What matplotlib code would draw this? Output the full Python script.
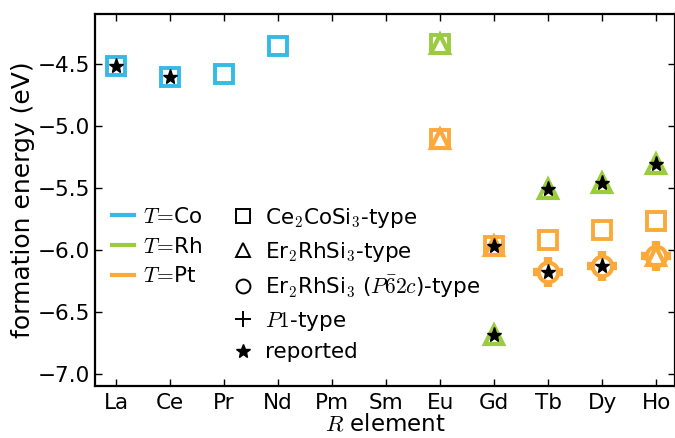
import matplotlib
matplotlib.use('Agg')
import matplotlib.pyplot as plt
from matplotlib.lines import Line2D

plt.rcParams['mathtext.fontset'] = 'cm'
plt.rcParams['font.family'] = 'DejaVu Sans'
plt.rcParams['font.size'] = 15

# R elements along the x axis
elements = ['La', 'Ce', 'Pr', 'Nd', 'Pm', 'Sm', 'Eu', 'Gd', 'Tb', 'Dy', 'Ho']

# formation energies (eV)
co_sq_el = ['La', 'Ce', 'Pr', 'Nd']
co_sq_e = [-4.52, -4.61, -4.58, -4.36]

rh_sq_el = ['Eu']
rh_sq_e = [-4.34]
rh_tri_el = ['Eu', 'Gd', 'Tb', 'Dy', 'Ho']
rh_tri_e = [-4.34, -6.69, -5.51, -5.46, -5.31]

pt_sq_el = ['Eu', 'Gd', 'Tb', 'Dy', 'Ho']
pt_sq_e = [-5.11, -5.97, -5.92, -5.84, -5.77]
pt_tri_el = ['Eu', 'Gd', 'Ho']
pt_tri_e = [-5.11, -5.97, -6.05]
pt_circ_el = ['Tb', 'Dy', 'Ho']
pt_circ_e = [-6.18, -6.13, -6.05]
pt_p1_el = ['Tb', 'Dy', 'Ho']
pt_p1_e = [-6.18, -6.13, -6.05]

reported_el = ['La', 'Ce', 'Gd', 'Tb', 'Dy', 'Ho', 'Gd', 'Tb', 'Dy']
reported_e = [-4.52, -4.61, -6.69, -5.51, -5.46, -5.31, -5.97, -6.18, -6.13]

c_co = '#35B9E9'
c_rh = '#9BCB3F'
c_pt = '#FCA93B'

idx = {el: i for i, el in enumerate(elements)}
def xs(els):
    return [idx[e] for e in els]

fig = plt.figure(figsize=(6.75, 4.38), dpi=100)
ax = fig.add_axes([95/675, 1-386/438, (675-95)/675, (386-14)/438])

sq = dict(marker='s', ms=13, mew=2.8, mfc='none', ls='none')
tri = dict(marker='^', ms=13, mew=3, mfc='none', ls='none')
plus = dict(marker='+', ms=22, mew=6, ls='none')

ax.plot(xs(co_sq_el), co_sq_e, mec=c_co, **sq)
ax.plot(xs(rh_sq_el), rh_sq_e, mec=c_rh, **sq)
ax.plot(xs(rh_tri_el), rh_tri_e, mec=c_rh, **tri)
ax.plot(xs(pt_p1_el), pt_p1_e, mec=c_pt, **plus)
ax.plot(xs(pt_circ_el), pt_circ_e, mec=c_pt, mfc='white', marker='o', ms=14, mew=3, ls='none')
ax.plot(xs(pt_sq_el), pt_sq_e, mec=c_pt, **sq)
ax.plot(xs(pt_tri_el), pt_tri_e, mec=c_pt, **tri)
ax.plot(xs(reported_el), reported_e, marker='*', ms=11, color='black', ls='none')

ax.set_xlim(-0.39, 10.35)
ax.set_ylim(-7.1, -4.1)
ax.set_xticks(range(len(elements)))
ax.set_xticklabels(elements)
ax.set_yticks([-7.0, -6.5, -6.0, -5.5, -5.0, -4.5])
ax.tick_params(direction='in', top=True, right=True, length=5, width=1, labelsize=15.5)
ax.tick_params(axis='x', pad=5)
for s in ax.spines.values():
    s.set_linewidth(1.6)

ax.set_xlabel(r'$R$ element', fontsize=16.5, labelpad=0)
ax.set_ylabel('formation energy (eV)', fontsize=18, labelpad=2)

# legend for T elements
h1 = [Line2D([], [], color=c, lw=3) for c in (c_co, c_rh, c_pt)]
l1 = [r'$T\!=\!$Co', r'$T\!=\!$Rh', r'$T\!=\!$Pt']
leg1 = ax.legend(h1, l1, loc='upper left', bbox_to_anchor=(112/675, 1-207/438),
                 bbox_transform=fig.transFigure, frameon=False, borderpad=0,
                 borderaxespad=0, handlelength=1.0, handletextpad=0.45,
                 labelspacing=0.45, fontsize=15.5)
ax.add_artist(leg1)

# legend for structure types
h2 = [Line2D([], [], marker='s', ms=10, mew=1.4, mfc='none', mec='black', ls='none'),
      Line2D([], [], marker='^', ms=10, mew=1.4, mfc='none', mec='black', ls='none'),
      Line2D([], [], marker='o', ms=10, mew=1.4, mfc='none', mec='black', ls='none'),
      Line2D([], [], marker='+', ms=11, mew=1.4, mec='black', ls='none'),
      Line2D([], [], marker='*', ms=10, color='black', ls='none')]
l2 = [r'Ce$_2$CoSi$_3$-type', r'Er$_2$RhSi$_3$-type',
      r'Er$_2$RhSi$_3$ ($P\bar{6}2c$)-type', r'$P1$-type', 'reported']
ax.legend(h2, l2, loc='upper left', bbox_to_anchor=(233/675, 1-206/438),
          bbox_transform=fig.transFigure, frameon=False, borderpad=0,
          borderaxespad=0, handlelength=0.95, handletextpad=0.55,
          labelspacing=0.45, fontsize=15.5)

fig.savefig('out.png', dpi=100)
